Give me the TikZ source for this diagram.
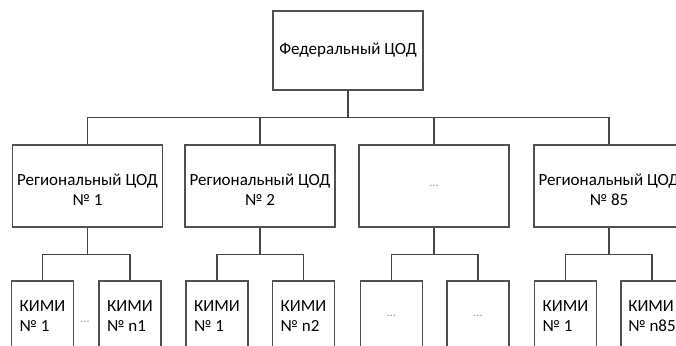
\documentclass[tikz,border=0pt]{standalone}
\usepackage{fontspec}
\setmainfont{Carlito}
\usetikzlibrary{positioning}
\definecolor{CodLine}{RGB}{70,70,70}
\definecolor{CodBorder}{RGB}{80,80,80}
\definecolor{CodDots}{RGB}{150,150,150}
\tikzset{
  cod/box/.style={
    draw=CodBorder,
    line width=1.5pt,
    fill=white,
    align=center,
    text=black,
    inner sep=2pt,
    font=\fontsize{17}{20}\selectfont
  },
  cod/fed/.style={cod/box, minimum width=150pt, minimum height=79pt},
  cod/reg/.style={cod/box, minimum width=150pt, minimum height=82pt},
  cod/regtext/.style={cod/reg, text height=39pt},
  cod/kimi/.style={cod/box, align=left, minimum width=62pt, minimum height=70pt},
  cod/link/.style={draw=CodLine, line width=1.2pt},
  cod/dots/.style={font=\fontsize{12}{12}\selectfont, text=CodDots}
}

\begin{document}
\begin{tikzpicture}[x=1pt,y=-1pt]
  \useasboundingbox (0,0) rectangle (676,345);
  \clip (0,0) rectangle (676,345);
  \fill[white] (0,0) rectangle (676,345);

  \node[cod/fed] (fed) at (348,50.5) {Федеральный ЦОД};

  \node[cod/regtext] (reg1) at (87.5,186) {Региональный ЦОД\\№ 1};
  \node[cod/regtext] (reg2) at (260,186) {Региональный ЦОД\\№ 2};
  \node[cod/reg,cod/dots] (reg3) at (434,186) {...};
  \node[cod/regtext] (reg4) at (609,186) {Региональный ЦОД\\№ 85};

  \node[cod/kimi] (k1a) at (42.5,316) {КИМИ\\№ 1};
  \node[cod/kimi] (k1b) at (130,316) {КИМИ\\№ n1};
  \node[cod/kimi] (k2a) at (217,316) {КИМИ\\№ 1};
  \node[cod/kimi] (k2b) at (303.5,316) {КИМИ\\№ n2};
  \node[cod/kimi,cod/dots] (k3a) at (391.5,316) {...};
  \node[cod/kimi,cod/dots] (k3b) at (478,316) {...};
  \node[cod/kimi] (k4a) at (565.5,316) {КИМИ\\№ 1};
  \node[cod/kimi] (k4b) at (652,316) {КИМИ\\№ n85};

  \node[cod/dots] (gap1) at (85,322) {...};

  \foreach \r in {reg1,reg2,reg3,reg4}{
    \draw[cod/link] (fed.south) -- ++(0,27) -| (\r.north);
  }
  \foreach \r/\a/\b in {reg1/k1a/k1b,reg2/k2a/k2b,reg3/k3a/k3b,reg4/k4a/k4b}{
    \draw[cod/link] (\r.south) -- ++(0,27) -| (\a.north);
    \draw[cod/link] (\r.south) -- ++(0,27) -| (\b.north);
  }
\end{tikzpicture}
\end{document}
